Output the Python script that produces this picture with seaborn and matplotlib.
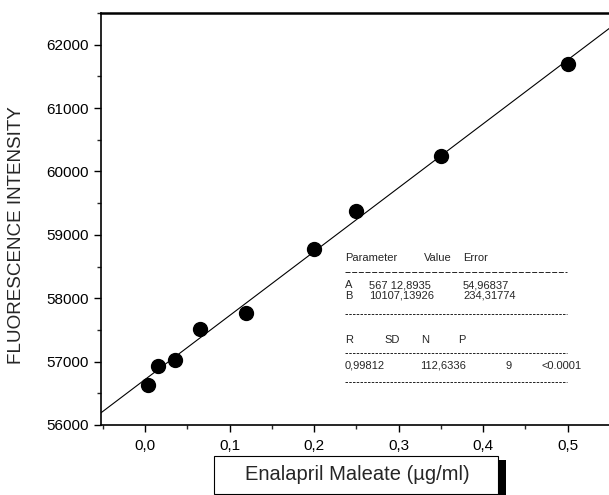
import numpy as np
import pandas as pd
import matplotlib.pyplot as plt
import seaborn as sns
from matplotlib.lines import Line2D
from matplotlib.patches import Rectangle
from matplotlib.ticker import MultipleLocator, FuncFormatter

# calibration data
conc = [0.003, 0.015, 0.035, 0.065, 0.12, 0.20, 0.25, 0.35, 0.50]
intensity = [56630, 56930, 57030, 57510, 57770, 58780, 59380, 60240, 61700]

fit_rows = [["A", "567 12,8935", "54,96837"],
            ["B", "10107,13926", "234,31774"]]
stat_row = ["0,99812", "112,6336", "9", "<0.0001"]

df = pd.DataFrame({"conc": conc, "intensity": intensity})

sns.set_style("ticks")
plt.rcParams["font.family"] = ["Liberation Sans", "DejaVu Sans"]

W, H = 609, 495
fig = plt.figure(figsize=(W / 100, H / 100), dpi=100)
ax_w = 1 - 101 / W + 0.01
ax = fig.add_axes([101 / W, 1 - 425 / H, ax_w, (425 - 13) / H])

# limits first so the fitted line spans the whole axes
ax.set_xlim(-0.052, 0.556)
ax.set_ylim(56000, 62500)
sns.regplot(data=df, x="conc", y="intensity", ci=None, truncate=False, ax=ax,
            scatter_kws={"s": 100, "color": "black", "alpha": 1, "zorder": 3},
            line_kws={"color": "black", "lw": 0.8})
ax.set_xlim(-0.052, 0.556)
ax.set_ylim(56000, 62500)

ax.xaxis.set_major_locator(MultipleLocator(0.1))
ax.xaxis.set_minor_locator(MultipleLocator(0.05))
ax.yaxis.set_major_locator(MultipleLocator(1000))
ax.yaxis.set_minor_locator(MultipleLocator(500))
ax.xaxis.set_major_formatter(FuncFormatter(lambda v, p: f"{v:.1f}".replace(".", ",").replace("-0,0", "0,0")))
ax.tick_params(which="major", length=5, width=1, labelsize=11, colors="black")
ax.tick_params(which="minor", length=3, width=1)
ax.tick_params(axis="x", pad=5)
for s in ["left", "bottom", "top"]:
    ax.spines[s].set_visible(True)
    ax.spines[s].set_linewidth(1.2)
    ax.spines[s].set_color("black")
ax.spines["top"].set_linewidth(1.8)
ax.spines["right"].set_visible(False)
ax.set_xlabel("")
ax.set_ylabel("FLUORESCENCE INTENSITY", fontsize=13.6)
ax.yaxis.set_label_coords(-76 / (ax_w * W), 0.461)

# x label in a shadowed box
fig.add_artist(Rectangle((218 / W, 1 - 495 / H), 288 / W, 35 / H, transform=fig.transFigure,
                         facecolor="black", edgecolor="none"))
fig.add_artist(Rectangle((214 / W, 1 - 494 / H), 284 / W, 38 / H, transform=fig.transFigure,
                         facecolor="white", edgecolor="black", lw=0.8))
fig.text(357 / W, 1 - 475 / H, "Enalapril Maleate (\u00b5g/ml)", ha="center", va="center", fontsize=14.5)

# fit parameter table
def ftxt(x, y, s):
    fig.text(x / W, 1 - y / H, s, ha="left", va="center", fontsize=8)

def fline(y, dashes):
    fig.add_artist(Line2D([345 / W, 567 / W], [1 - y / H, 1 - y / H], transform=fig.transFigure,
                          color="black", lw=0.6, dashes=dashes))

ftxt(345, 258, "Parameter")
ftxt(424, 258, "Value")
ftxt(463, 258, "Error")
fline(272, (6, 2))
for i, row in enumerate(fit_rows):
    y = 285 + 11 * i
    ftxt(345, y, row[0])
    ftxt(369, y, row[1])
    ftxt(463, y, row[2])
fline(314, (3, 1.5))
ftxt(345, 340, "R")
ftxt(384, 340, "SD")
ftxt(421, 340, "N")
ftxt(458, 340, "P")
fline(353, (3, 1.5))
for x, s in zip([345, 420, 505, 542], stat_row):
    ftxt(x, 366, s)
fline(382, (3, 1.5))

fig.savefig("out.png", dpi=100)
